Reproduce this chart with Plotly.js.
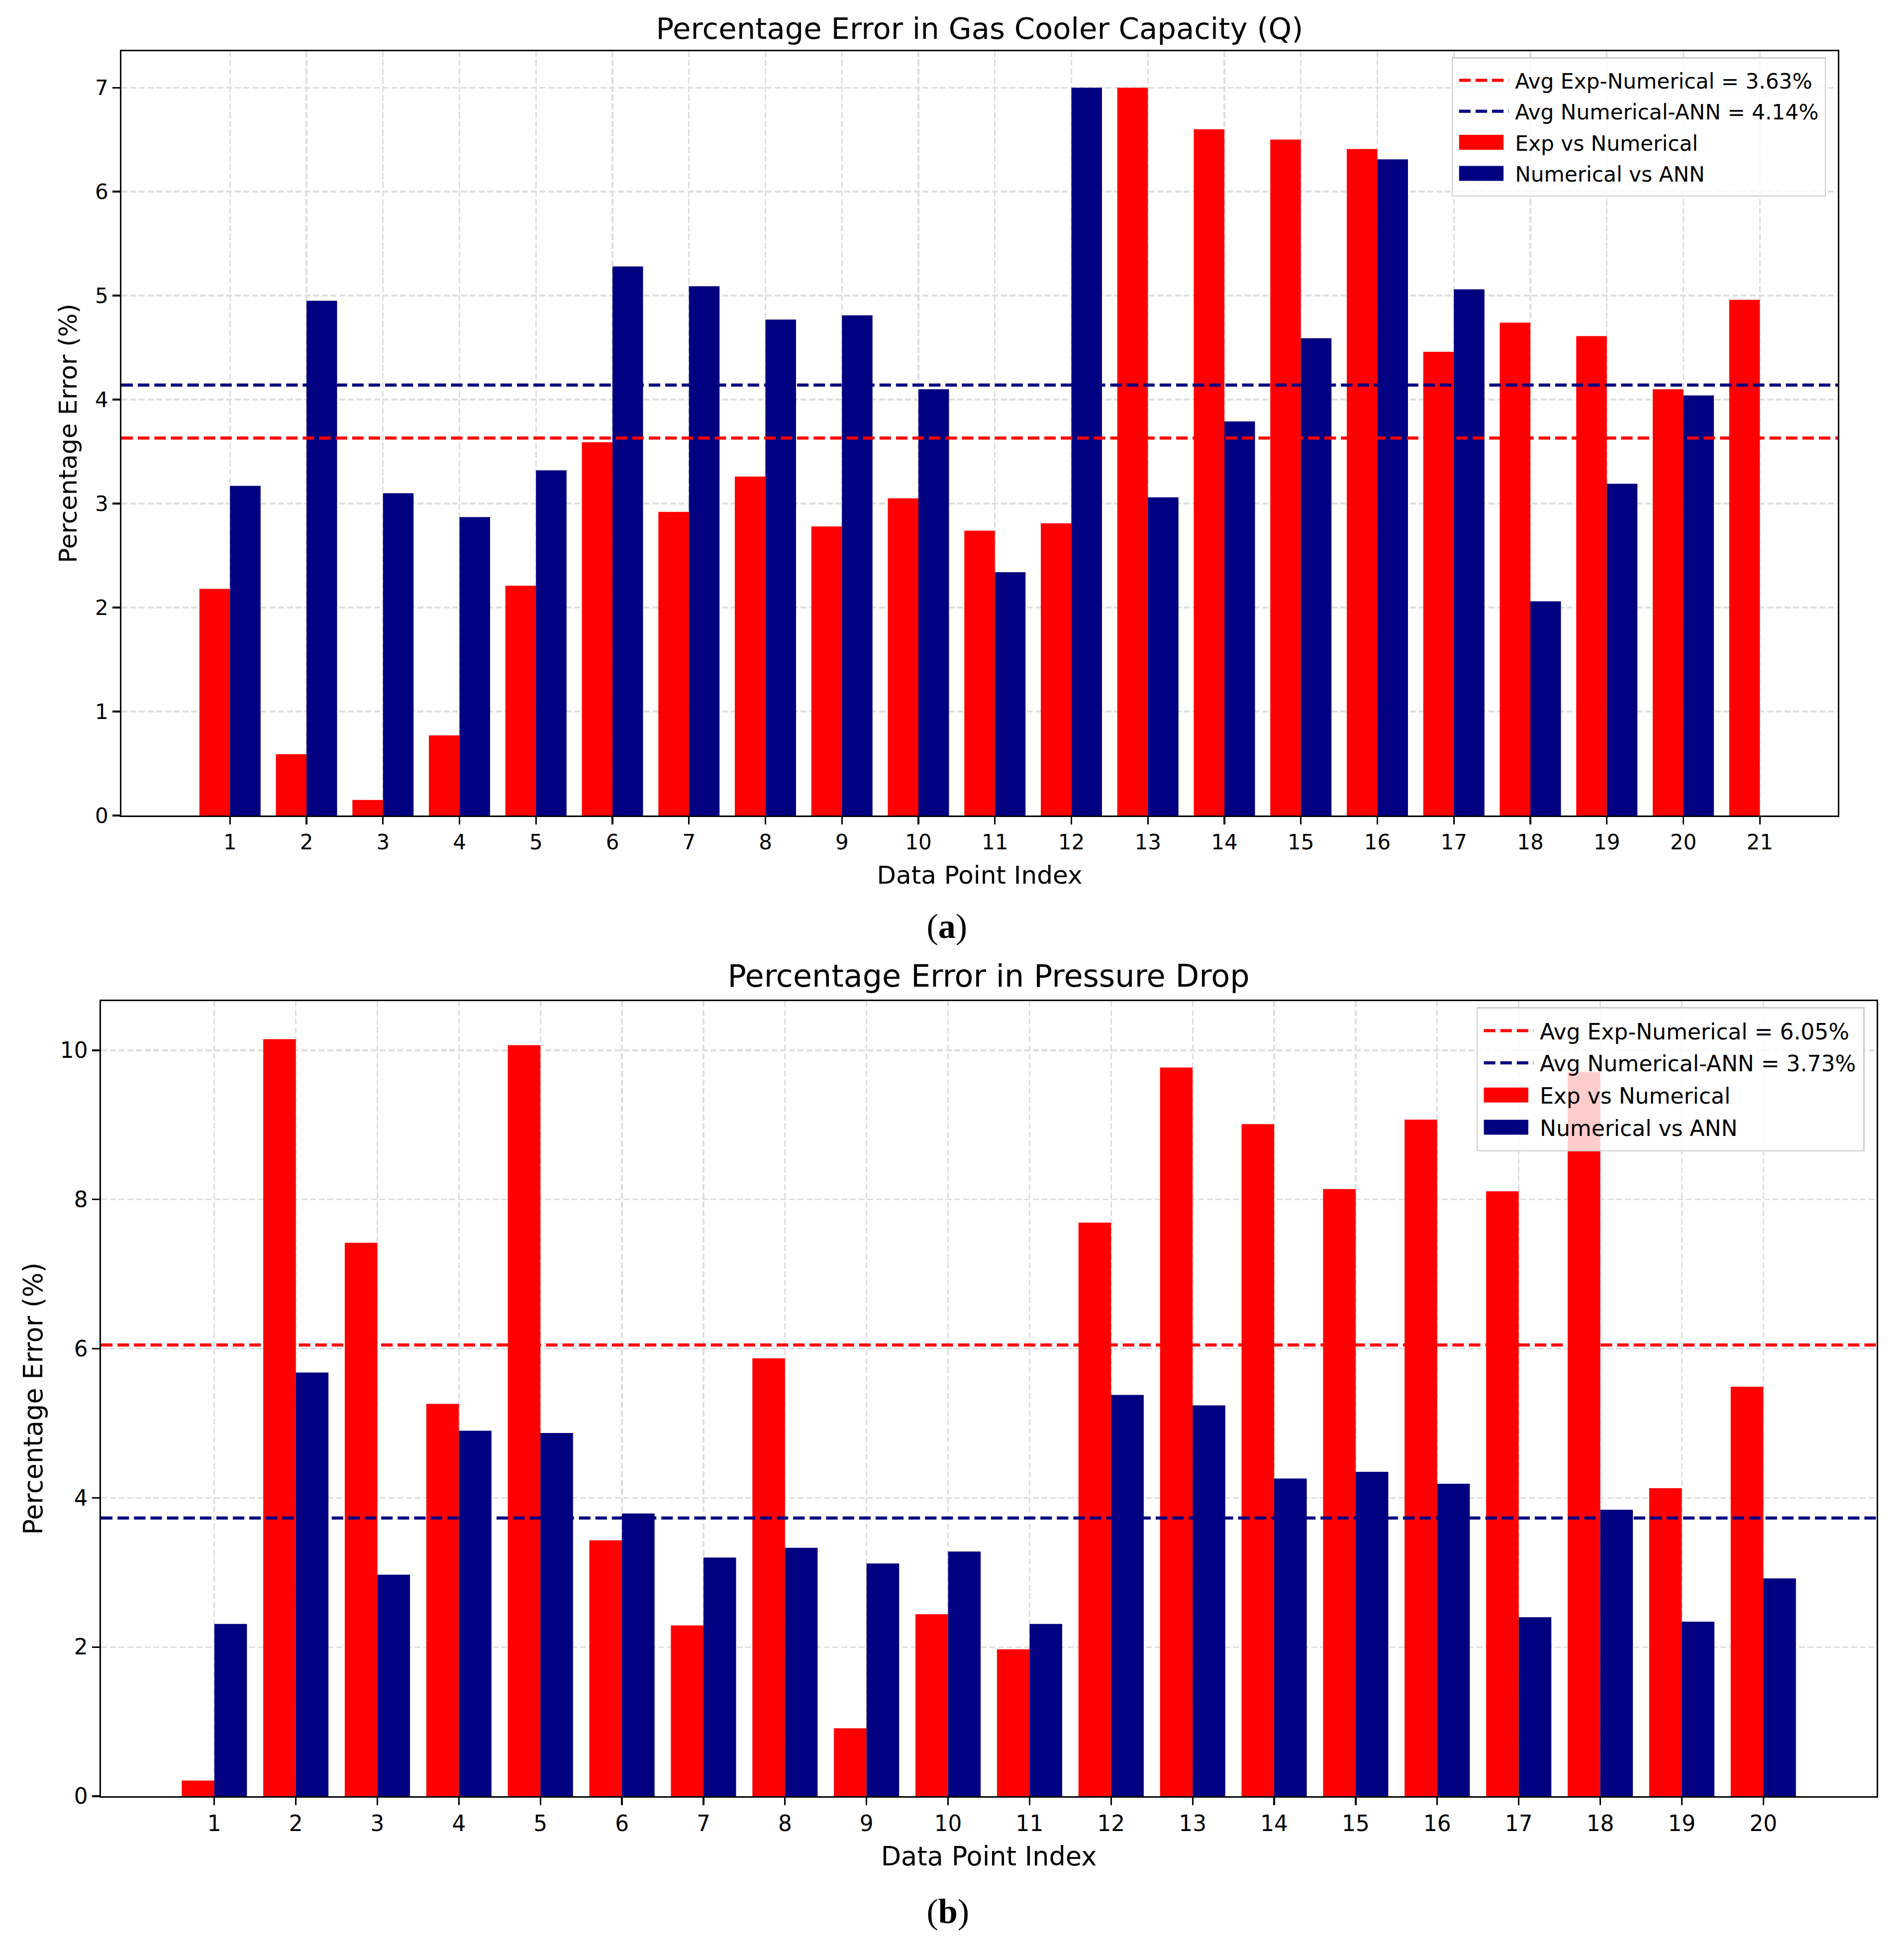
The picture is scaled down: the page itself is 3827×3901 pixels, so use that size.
<!DOCTYPE html>
<html>
<head>
<meta charset="utf-8">
<script src="https://cdn.plot.ly/plotly-3.0.1.min.js"></script>
<style>
  html, body { margin: 0; padding: 0; background: #ffffff; width: 3827px; height: 3901px; overflow: hidden; }
  #outer { position: relative; width: 3827px; height: 3901px; overflow: hidden; background: #ffffff; }
  #wrap { position: absolute; left: 0; top: 0; width: 1531px; height: 1560px; transform: scale(2.5); transform-origin: 0 0; }
  #chart { width: 1531px; height: 1560px; }
</style>
</head>
<body>
<div id="outer"><div id="wrap"><div id="chart"></div></div></div>
<script>
// ---------- Data: (a) Gas cooler capacity Q ----------
const indexQ = [1,2,3,4,5,6,7,8,9,10,11,12,13,14,15,16,17,18,19,20,21];
const expVsNumQ = [2.18,0.59,0.15,0.77,2.21,3.59,2.92,3.26,2.78,3.05,2.74,2.81,7.00,6.60,6.50,6.41,4.46,4.74,4.61,4.10,4.96];
const numVsAnnQ = [3.17,4.95,3.10,2.87,3.32,5.28,5.09,4.77,4.81,4.10,2.34,7.00,3.06,3.79,4.59,6.31,5.06,2.06,3.19,4.04];
const avgExpNumQ = 3.63;
const avgNumAnnQ = 4.14;

// ---------- Data: (b) Pressure drop ----------
const indexP = [1,2,3,4,5,6,7,8,9,10,11,12,13,14,15,16,17,18,19,20];
const expVsNumP = [0.21,10.15,7.42,5.26,10.07,3.43,2.29,5.87,0.91,2.44,1.97,7.69,9.77,9.01,8.14,9.07,8.11,9.71,4.13,5.49];
const numVsAnnP = [2.31,5.68,2.97,4.90,4.87,3.79,3.20,3.33,3.12,3.28,2.31,5.38,5.24,4.26,4.35,4.19,2.40,3.84,2.34,2.92];
const avgExpNumP = 6.05;
const avgNumAnnP = 3.73;

// ---------- Styling ----------
const RED = '#ff0000';
const NAVY = '#000080';
const FONT = 'DejaVu Sans, Verdana, sans-serif';
const SERIF = 'Liberation Serif, Times New Roman, serif';
const fontsA = { tick: 16.8, legend: 16.9, axis: 20.0, title: 23.7 };
const fontsB = { tick: 17.5, legend: 17.6, axis: 21.0, title: 24.8 };
const rangeXQ = [-0.42, 22.02];
const rangeXP = [-0.39, 21.39];
const barW = 0.4;
const SWATCH_LEN = 35.75;   // visible length of the dashed legend swatch, px (pre-scale)

function avgLine(xr, val, color, label, xa, ya, lg) {
  return {
    type: 'scatter', mode: 'lines', x: [xr[0], xr[1]], y: [val, val],
    line: { color: color, width: 2.5, dash: '9.25px,4px' },
    name: label + ' = ' + val.toFixed(2) + '%',
    xaxis: xa, yaxis: ya, legend: lg, hoverinfo: 'skip'
  };
}
function bars(xs, ys, color, label, off, xa, ya, lg) {
  return {
    type: 'bar', x: xs, y: ys, width: barW, offset: off,
    marker: { color: color, line: { width: 0 } },
    name: label, xaxis: xa, yaxis: ya, legend: lg
  };
}

const data = [
  avgLine(rangeXQ, avgExpNumQ, RED, 'Avg Exp-Numerical', 'x', 'y', 'legend'),
  avgLine(rangeXQ, avgNumAnnQ, NAVY, 'Avg Numerical-ANN', 'x', 'y', 'legend'),
  bars(indexQ, expVsNumQ, RED, 'Exp vs Numerical', -barW, 'x', 'y', 'legend'),
  bars(indexQ.slice(0, numVsAnnQ.length), numVsAnnQ, NAVY, 'Numerical vs ANN', 0, 'x', 'y', 'legend'),
  avgLine(rangeXP, avgExpNumP, RED, 'Avg Exp-Numerical', 'x2', 'y2', 'legend2'),
  avgLine(rangeXP, avgNumAnnP, NAVY, 'Avg Numerical-ANN', 'x2', 'y2', 'legend2'),
  bars(indexP, expVsNumP, RED, 'Exp vs Numerical', -barW, 'x2', 'y2', 'legend2'),
  bars(indexP, numVsAnnP, NAVY, 'Numerical vs ANN', 0, 'x2', 'y2', 'legend2')
];

function axisBase(fs, extra) {
  return Object.assign({
    showline: true, mirror: true, linecolor: '#000000', linewidth: 1.3,
    ticks: 'outside', ticklen: 5.8, tickwidth: 1.3, tickcolor: '#000000',
    tickfont: { family: FONT, size: fs.tick, color: '#000000' },
    showgrid: true, gridcolor: '#dedede', gridwidth: 1.3, griddash: '4.9px,2.1px',
    zeroline: false, fixedrange: true
  }, extra);
}
function axTitle(text, fs, standoff) {
  return { text: text, font: { family: FONT, size: fs.axis, color: '#000000' }, standoff: standoff };
}
function legendBase(fs, x, y) {
  return {
    x: x, y: y, xanchor: 'right', yanchor: 'top',
    bgcolor: 'rgba(255,255,255,0.8)', bordercolor: '#cccccc', borderwidth: 1,
    font: { family: FONT, size: fs.legend, color: '#000000' },
    traceorder: 'normal', itemwidth: 40
  };
}

const layout = {
  width: 1531, height: 1560,
  margin: { l: 0, r: 0, t: 0, b: 0 },
  paper_bgcolor: '#ffffff', plot_bgcolor: '#ffffff',
  font: { family: FONT, color: '#000000' },
  barmode: 'overlay',
  title: {
    text: 'Percentage Error in Gas Cooler Capacity (Q)',
    font: { family: FONT, size: fontsA.title, color: '#000000' },
    x: 0.5144, xanchor: 'center', xref: 'paper',
    y: 0.9854, yanchor: 'middle', yref: 'paper'
  },
  xaxis: axisBase(fontsA, {
    domain: [0.06375, 0.96512], range: rangeXQ, anchor: 'y',
    tickmode: 'array', tickvals: indexQ, ticktext: indexQ.map(String),
    title: axTitle('Data Point Index', fontsA, 10)
  }),
  yaxis: axisBase(fontsA, {
    domain: [0.57974, 0.97359], range: [0, 7.35], anchor: 'x',
    tickmode: 'linear', tick0: 0, dtick: 1,
    title: axTitle('Percentage Error (%)', fontsA, 8.5)
  }),
  xaxis2: axisBase(fontsB, {
    domain: [0.05304, 0.98550], range: rangeXP, anchor: 'y2',
    tickmode: 'array', tickvals: indexP, ticktext: indexP.map(String),
    title: axTitle('Data Point Index', fontsB, 9.5)
  }),
  yaxis2: axisBase(fontsB, {
    domain: [0.07436, 0.48410], range: [0, 10.66], anchor: 'x2',
    tickmode: 'linear', tick0: 0, dtick: 2,
    title: axTitle('Percentage Error (%)', fontsB, 7.5)
  }),
  legend: legendBase(fontsA, 0.9589, 0.9705),
  legend2: legendBase(fontsB, 0.9791, 0.4810),
  annotations: [
    { text: 'Percentage Error in Pressure Drop', xref: 'paper', yref: 'paper',
      x: 0.5193, y: 0.4968, xanchor: 'center', yanchor: 'middle', showarrow: false,
      font: { family: FONT, size: fontsB.title, color: '#000000' } },
    { text: '(<b>a</b>)', xref: 'paper', yref: 'paper', x: 0.4977, y: 0.5225,
      xanchor: 'center', yanchor: 'middle', showarrow: false,
      font: { family: SERIF, size: 28, color: '#000000' } },
    { text: '(<b>b</b>)', xref: 'paper', yref: 'paper', x: 0.4977, y: 0.0152,
      xanchor: 'center', yanchor: 'middle', showarrow: false,
      font: { family: SERIF, size: 28, color: '#000000' } }
  ],
  showlegend: true
};

// Widen bar legend swatches into wide patches aligned with the dashed-line swatches
// (matplotlib draws bar legend handles as wide rectangles).
function widenBarSwatches(gd) {
  gd.querySelectorAll('g.scrollbox').forEach(function (sb) {
    var items = Array.prototype.slice.call(sb.querySelectorAll('g.traces'));
    var ref = null;
    function lineRect(it) {
      var best = null;
      it.querySelectorAll('g.legendlines path').forEach(function (lp) {
        var r = lp.getBoundingClientRect();
        if (r.width > 5 && (!best || r.width > best.width)) best = r;
      });
      return best;
    }
    items.forEach(function (it) {
      var r = lineRect(it);
      if (r && (!ref || r.width > ref.width)) ref = r;
    });
    if (!ref) return;
    items.forEach(function (it) {
      if (lineRect(it)) return;
      it.querySelectorAll('g.legendpoints path').forEach(function (p) {
        if (p.getAttribute('data-wide') === '1') return;
        var br = p.getBoundingClientRect();
        if (!br.width) return;
        var k = 12 / br.width;
        var x0 = -6 + (ref.left - br.left) * k;
        var x1 = x0 + SWATCH_LEN;
        p.setAttribute('d', 'M' + x1.toFixed(2) + ',6H' + x0.toFixed(2) + 'V-6H' + x1.toFixed(2) + 'Z');
        p.setAttribute('data-wide', '1');
      });
    });
  });
}

var gdEl = document.getElementById('chart');
var prom = Plotly.newPlot(gdEl, data, layout, { displayModeBar: false, staticPlot: true });
try { widenBarSwatches(gdEl); } catch (e) {}
prom.then(function (gd) {
  widenBarSwatches(gd);
  if (gd.on) gd.on('plotly_afterplot', function () { widenBarSwatches(gd); });
});
setTimeout(function () { widenBarSwatches(gdEl); }, 0);
</script>
</body>
</html>
